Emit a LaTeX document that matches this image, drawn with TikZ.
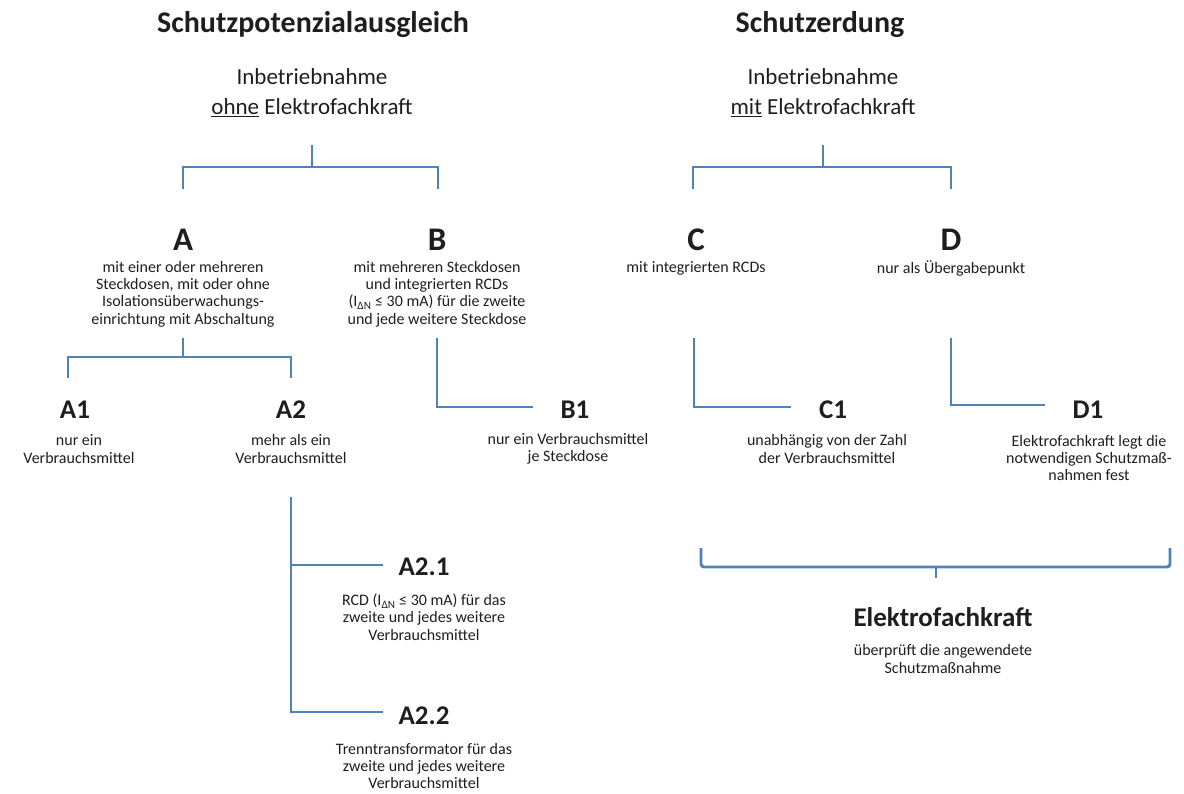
\documentclass[tikz,border=0pt]{standalone}
\usepackage{fontspec}
\setmainfont{Carlito}
\definecolor{lineblue}{RGB}{79,129,189}
\definecolor{txt}{RGB}{30,30,30}
\begin{document}
\begin{tikzpicture}[x=1pt,y=-1pt,
  ln/.style={draw=lineblue,line width=2.9pt},
  ttl/.style={font=\bfseries\fontsize{30}{36}\selectfont,inner sep=0pt,text=txt},
  sub/.style={font=\fontsize{23}{30}\selectfont,inner sep=0pt,text=txt},
  big/.style={font=\bfseries\fontsize{33}{38}\selectfont,inner sep=0pt,text=txt},
  mid/.style={font=\bfseries\fontsize{27}{32}\selectfont,inner sep=0pt,text=txt},
  sm/.style={font=\fontsize{16}{17.3}\selectfont,inner sep=0pt,align=center,text=txt}]
\useasboundingbox (0,0) rectangle (1184,793);
% titles
\node[ttl] (t1) at (313,25) {Schutzpotenzialausgleich};
\node[ttl] (t2) at (820,25) {Schutzerdung};
\node[sub] (i1) at (312,77) {Inbetriebnahme};
\node[sub] (o1) at (312,108) {\underline{ohne} Elektrofachkraft};
\node[sub] (i2) at (823,77) {Inbetriebnahme};
\node[sub] (o2) at (823,108) {\underline{mit} Elektrofachkraft};
% top brackets
\coordinate (lt) at (312,145); \coordinate (lm) at (312,167);
\coordinate (la) at (183,189); \coordinate (lb) at (438,189);
\draw[ln] (lt) -- (lm);
\draw[ln] (la) |- (lm) -| (lb);
\coordinate (rt) at (823,145); \coordinate (rm) at (823,167);
\coordinate (rc) at (693,189); \coordinate (rd) at (951,189);
\draw[ln] (rt) -- (rm);
\draw[ln] (rc) |- (rm) -| (rd);
% A B C D
\node[big] (A) at (183,240) {A};
\node[big] (B) at (437,240) {B};
\node[big] (C) at (696,240) {C};
\node[big] (D) at (951,240) {D};
\node[sm] (At) at (183,294) {mit einer oder mehreren\\Steckdosen, mit oder ohne\\Isolationsüberwachungs-\\einrichtung mit Abschaltung};
\node[sm] (Bt) at (437,294) {mit mehreren Steckdosen\\und integrierten RCDs\\(I\textsubscript{ΔN} ≤ 30 mA) für die zweite\\und jede weitere Steckdose};
\node[sm] (Ct) at (696,268) {mit integrierten RCDs};
\node[sm] (Dt) at (951,268) {nur als Übergabepunkt};
% A bracket
\coordinate (at) at (183,338); \coordinate (am) at (183,357);
\coordinate (a1) at (68,378); \coordinate (a2) at (291,378);
\draw[ln] (at) -- (am);
\draw[ln] (a1) |- (am) -| (a2);
% L brackets
\coordinate (bt) at (437,338); \coordinate (be) at (533,407);
\draw[ln] (bt) |- (be);
\coordinate (ct) at (694,338); \coordinate (ce) at (791,407);
\draw[ln] (ct) |- (ce);
\coordinate (dt) at (951,338); \coordinate (de) at (1045,405);
\draw[ln] (dt) |- (de);
% level 2
\node[mid] (A1) at (75,410) {A1};
\node[mid] (A2) at (291,410) {A2};
\node[mid] (B1) at (575,410) {B1};
\node[mid] (C1) at (833,410) {C1};
\node[mid] (D1) at (1088,410) {D1};
\node[sm] (A1t) at (79,449) {nur ein\\Verbrauchsmittel};
\node[sm] (A2t) at (291,449) {mehr als ein\\Verbrauchsmittel};
\node[sm] (B1t) at (568,449) {nur ein Verbrauchsmittel\\je Steckdose};
\node[sm] (C1t) at (827,449) {unabhängig von der Zahl\\der Verbrauchsmittel};
\node[sm] (D1t) at (1089,458) {Elektrofachkraft legt die\\notwendigen Schutzmaß-\\nahmen fest};
% A2 branch
\coordinate (v0) at (291,497); \coordinate (v1) at (291,565); \coordinate (v2) at (291,712);
\coordinate (e1) at (383,565); \coordinate (e2) at (383,712);
\draw[ln] (v0) -- (v2) -- (e2);
\draw[ln] (v1) -- (e1);
\node[mid] (A21) at (424,567) {A2.1};
\node[mid] (A22) at (424,716) {A2.2};
\node[sm] (A21t) at (424,617) {RCD (I\textsubscript{ΔN} ≤ 30 mA) für das\\zweite und jedes weitere\\Verbrauchsmittel};
\node[sm] (A22t) at (424,766) {Trenntransformator für das\\zweite und jedes weitere\\Verbrauchsmittel};
% bottom bracket
\coordinate (bl) at (701,548); \coordinate (br) at (1170,548);
\coordinate (bm) at (936,567); \coordinate (bk) at (936,578);
\draw[ln,rounded corners=3pt] (bl) |- (bm) -| (br);
\draw[ln] (bm) -- (bk);
\node[mid] (E) at (943,617) {Elektrofachkraft};
\node[sm] (Et) at (943,659) {überprüft die angewendete\\Schutzmaßnahme};
\end{tikzpicture}
\end{document}
